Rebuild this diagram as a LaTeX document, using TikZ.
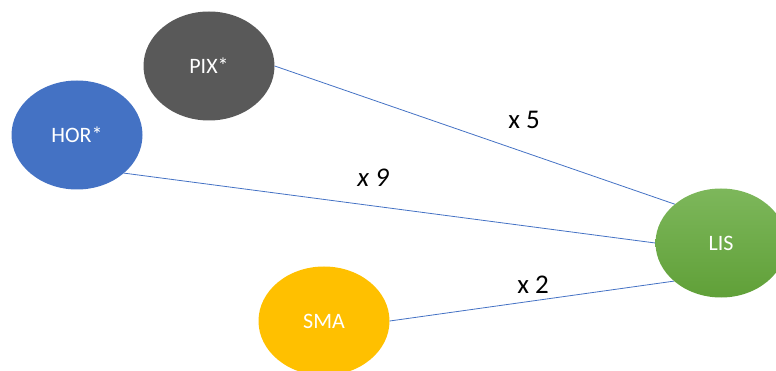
\documentclass[tikz,border=0pt]{standalone}
\usepackage{fontspec}
\setmainfont{Carlito}
\usetikzlibrary{shapes.geometric}
\definecolor{pixgray}{HTML}{595959}
\definecolor{horblue}{HTML}{4472C4}
\definecolor{smayellow}{HTML}{FFC000}
\definecolor{listop}{HTML}{7DB75B}
\definecolor{lisbot}{HTML}{60A038}
\definecolor{linkblue}{HTML}{4472C4}
\tikzset{
  blob/.style={ellipse, minimum width=131pt, minimum height=109pt, inner sep=0pt,
    text=white, font=\fontsize{22}{26}\selectfont},
  link/.style={draw=linkblue, line width=0.8pt},
  mult/.style={font=\fontsize{27}{31}\selectfont, text=black, inner sep=0pt}
}
\begin{document}
\begin{tikzpicture}[x=1pt,y=-1pt]
\useasboundingbox (0,0) rectangle (776,371);
\node[blob, fill=pixgray] (pix) at (209,66) {PIX*};
\node[blob, fill=horblue] (hor) at (77,135) {HOR*};
\node[blob, fill=smayellow] (sma) at (324,321) {SMA};
\node[blob, top color=listop, bottom color=lisbot] (lis) at (721,243) {LIS};
\draw[link] (pix.east) -- (lis.140.4);
\draw[link] (hor.-39.6) -- (lis.west);
\draw[link] (sma.east) -- (lis.219.6);
\node[mult] (l5) at (524,120) {x 5};
\node[mult] (l9) at (373,178) {\itshape x 9};
\node[mult] (l2) at (533,285) {x 2};
\end{tikzpicture}
\end{document}
